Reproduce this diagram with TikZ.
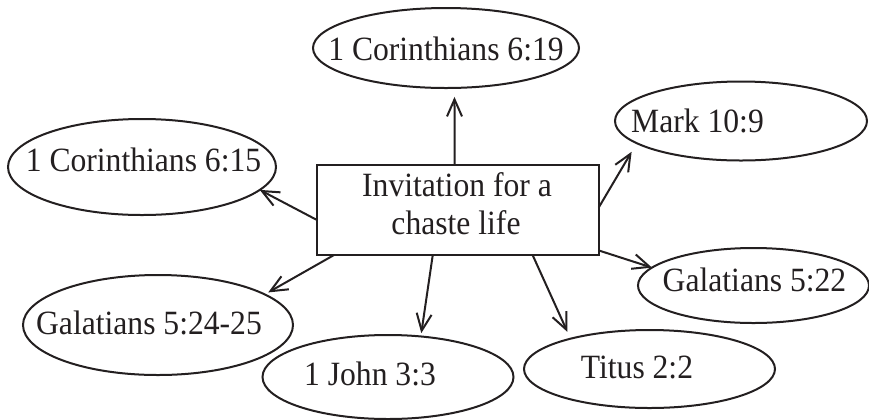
\documentclass[tikz,border=0pt]{standalone}
\usepackage{fontspec}
\usepackage{graphicx}
\setmainfont{Liberation Serif}
\usetikzlibrary{shapes.geometric,arrows.meta}
\definecolor{ink}{HTML}{231F20}
\newcommand{\cmptext}[1]{\scalebox{0.93}[1]{#1}}
\tikzset{
  oval/.style={ellipse,draw=ink,line width=1pt,inner sep=0pt,outer sep=0pt},
  mainbox/.style={rectangle,draw=ink,line width=1pt,inner sep=0pt,outer sep=0pt,minimum width=141pt,minimum height=45pt},
  lbl/.style={anchor=base,inner sep=0pt,text=ink,font=\fontsize{17pt}{20pt}\selectfont},
  conn/.style={draw=ink,line width=1pt,-{Straight Barb[length=8.5pt,width=7.5pt]}}
}
\begin{document}
\begin{tikzpicture}[x=0.5pt,y=-0.5pt]
\useasboundingbox (0,0) rectangle (869,419);
% central box
\node[mainbox] (box) at (457.7,210) {};
\node[lbl] (b1) at (457,196.7) {\cmptext{Invitation for a}};
\node[lbl] (b2) at (456,234.3) {\cmptext{chaste life}};
% ellipses
\node[oval,minimum width=133pt,minimum height=40pt] (e1) at (446,48) {};
\node[oval,minimum width=134pt,minimum height=48pt] (e2) at (142,167) {};
\node[oval,minimum width=126pt,minimum height=39.5pt] (e3) at (741,121) {};
\node[oval,minimum width=115.5pt,minimum height=37.5pt] (e4) at (753.5,285.5) {};
\node[oval,minimum width=135pt,minimum height=50pt] (e5) at (158,325) {};
\node[oval,minimum width=125.5pt,minimum height=42pt] (e6) at (388,377) {};
\node[oval,minimum width=125.5pt,minimum height=39pt] (e7) at (649.5,369) {};
% labels
\node[lbl] (t1) at (446,60) {\cmptext{1 Corinthians 6:19}};
\node[lbl] (t2) at (143.5,171) {\cmptext{1 Corinthians 6:15}};
\node[lbl] (t3) at (697.5,132) {\cmptext{Mark 10:9}};
\node[lbl] (t4) at (754.5,291) {\cmptext{Galatians 5:22}};
\node[lbl] (t5) at (149,334) {\cmptext{Galatians 5:24-25}};
\node[lbl] (t6) at (370,385) {\cmptext{1 John 3:3}};
\node[lbl] (t7) at (637,378) {\cmptext{Titus 2:2}};
% connectors
\draw[conn,shorten >=4.5pt] (box.94.4) -- (e1.-78.7);
\draw[conn] (box.184.3) -- (e2.-11.9);
\draw[conn,shorten >=5pt] (box.1) -- (e3.192.8);
\draw[conn] (box.-16.1) -- (e4.170.6);
\draw[conn,shorten >=2pt] (box.200.4) -- (e5.16.4);
\draw[conn,shorten >=1.7pt] (box.241.7) -- (e6.51);
\draw[conn,shorten >=3.7pt] (box.329.6) -- (e7.159.2);
\end{tikzpicture}
\end{document}
